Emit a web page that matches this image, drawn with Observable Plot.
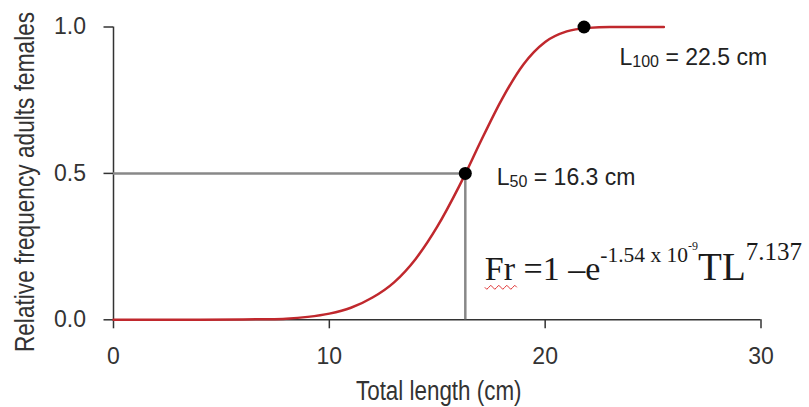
<!DOCTYPE html>
<html>
<head>
<meta charset="utf-8">
<script src="https://cdn.jsdelivr.net/npm/d3@7"></script>
<script src="https://cdn.jsdelivr.net/npm/@observablehq/plot@0.6"></script>
<style>
  body { margin: 0; background: #fff; }
  svg { display: block; }
</style>
</head>
<body>
<div id="chart"></div>
<script>
// ---- data ----
const lengths = [0, 2, 4, 6, 7, 8, 9, 10, 11, 12, 13, 14, 15, 16, 16.3, 17, 18, 19, 20, 21, 22, 23, 24, 25.5];
const freqs   = [0, 0, 0, 0.001, 0.002, 0.004, 0.010, 0.021, 0.041, 0.076, 0.128, 0.208, 0.318, 0.454, 0.498, 0.607, 0.754, 0.873, 0.949, 0.985, 0.997, 1, 1, 1];
const xTicks = [0, 10, 20, 30];
const yTicks = [0, 0.5, 1];
const markerX = [16.3, 21.8];
const markerY = [0.5, 1.0];
const markerSub = ["50", "100"];
const markerText = ["= 16.3 cm", "= 22.5 cm"];
const xTitle = "Total length (cm)";
const yTitle = "Relative frequency adults females";
const formulaParts = ["Fr =1 \u2013e", "-1.54 x 10", "-9", "TL", "7.137"];

const curve = lengths.map((x, i) => ({x, y: freqs[i]}));
const markers = markerX.map((x, i) => ({x, y: markerY[i], sub: markerSub[i], text: markerText[i]}));
const l50 = markers[0];

const axisColor = "#333";
const plot = Plot.plot({
  width: 809,
  height: 407,
  marginLeft: 113,
  marginRight: 48.5,
  marginTop: 26.5,
  marginBottom: 87.7,
  x: {domain: [xTicks[0], xTicks[xTicks.length - 1]], label: null},
  y: {domain: [yTicks[0], yTicks[yTicks.length - 1]], label: null},
  style: {fontFamily: "'Liberation Sans', Arial, sans-serif", fontSize: "23px", color: axisColor, background: "#fff"},
  marks: [
    Plot.axisX(xTicks, {tickSize: 9, tickPadding: 19, fontSize: 23, color: axisColor, strokeWidth: 1.5, label: null}),
    Plot.axisY(yTicks, {tickSize: 9.5, tickPadding: 18, fontSize: 23, color: axisColor, strokeWidth: 1.5, tickFormat: d3.format(".1f"), label: null}),
    Plot.ruleY([yTicks[0]], {x1: xTicks[0], x2: xTicks[xTicks.length - 1], stroke: axisColor, strokeWidth: 1.5}),
    Plot.ruleX([xTicks[0]], {y1: yTicks[0], y2: yTicks[yTicks.length - 1], stroke: axisColor, strokeWidth: 1.5}),
    Plot.ruleY([l50], {y: "y", x1: xTicks[0], x2: "x", stroke: "#888", strokeWidth: 2.5}),
    Plot.ruleX([l50], {x: "x", y1: yTicks[0], y2: "y", stroke: "#888", strokeWidth: 2.5}),
    Plot.line(curve, {x: "x", y: "y", stroke: "#c0282d", strokeWidth: 2.5, curve: "monotone-x"}),
    Plot.dot(markers, {x: "x", y: "y", r: 6.5, fill: "#000", stroke: "none"})
  ]
});
document.getElementById("chart").appendChild(plot);

const svg = d3.select(plot);
const sx = plot.scale("x"), sy = plot.scale("y");

// marker labels with subscripts
const labelOffsets = [[32, 12], [36, 38.5]];
markers.forEach((m, i) => {
  const t = svg.append("text")
    .attr("x", sx.apply(m.x) + labelOffsets[i][0])
    .attr("y", sy.apply(m.y) + labelOffsets[i][1])
    .attr("text-anchor", "start")
    .attr("font-family", "'Liberation Sans', Arial, sans-serif")
    .attr("font-size", 23)
    .attr("fill", "#222");
  t.append("tspan").text("L");
  t.append("tspan").attr("font-size", 16).attr("dy", 2).text(m.sub);
  t.append("tspan").attr("dy", -2).text(" " + m.text);
});

// formula
const fx = sx.apply(l50.x) + 20, fy = sy.apply(yTicks[0]) - 39;
const f = svg.append("text")
  .attr("x", fx).attr("y", fy)
  .attr("text-anchor", "start")
  .attr("font-family", "'Liberation Serif', 'Times New Roman', serif")
  .attr("font-size", 34)
  .attr("fill", "#1a1a1a")
  .attr("xml:space", "preserve")
  .style("white-space", "pre");
f.append("tspan").text(formulaParts[0]);
f.append("tspan").attr("font-size", 21.5).attr("dy", -18).text(formulaParts[1]);
f.append("tspan").attr("font-size", 12).attr("dy", -12).text(formulaParts[2]);
f.append("tspan").attr("font-size", 39).attr("dy", 30).text(formulaParts[3]);
f.append("tspan").attr("font-size", 25).attr("dy", -20).text(formulaParts[4]);

// red wavy spell-check underline under "Fr"
let wd = `M${fx},${fy + 7}`;
for (let k = 0; k < 8; k++) wd += ` l2,${k % 2 ? -2 : 2} l2,${k % 2 ? 2 : -2}`;
svg.append("path").attr("d", wd).attr("fill", "none").attr("stroke", "#e03030").attr("stroke-width", 1);

// axis titles (condensed)
const xMid = (sx.apply(xTicks[0]) + sx.apply(xTicks[xTicks.length - 1])) / 2;
svg.append("text")
  .attr("transform", `translate(${xMid + 2},400) scale(0.8,1)`)
  .attr("text-anchor", "middle")
  .attr("font-family", "'Liberation Sans', Arial, sans-serif")
  .attr("font-size", 28)
  .attr("fill", axisColor)
  .text(xTitle);
svg.append("text")
  .attr("transform", "translate(34,182) rotate(-90) scale(0.84,1)")
  .attr("text-anchor", "middle")
  .attr("font-family", "'Liberation Sans', Arial, sans-serif")
  .attr("font-size", 27)
  .attr("fill", axisColor)
  .text(yTitle);
</script>
</body>
</html>
